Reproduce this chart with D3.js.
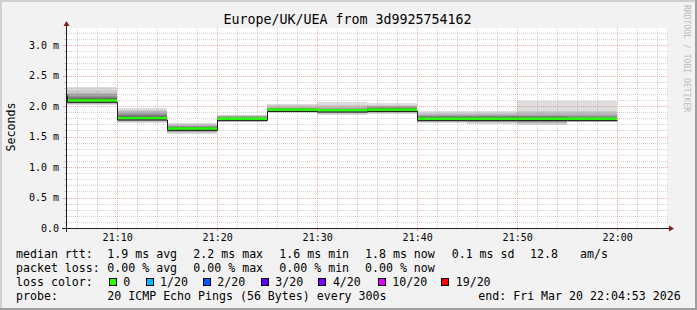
<!DOCTYPE html>
<html><head><meta charset="utf-8">
<script src="https://cdn.jsdelivr.net/npm/d3@7"></script>
<style>html,body{margin:0;padding:0;background:#f2f2f2;}svg{display:block;}</style>
</head><body>
<svg id="chart" width="697" height="310"></svg>
<script>
// ---------------- data ----------------
const titleText = "Europe/UK/UEA from 3d9925754162";
const windowStart = "21:04:53";
const windowEnd = "22:04:53";
const intervalStart = ["21:05","21:10","21:15","21:20","21:25","21:30","21:35","21:40","21:45","21:50","21:55"];
const prevIntervalStart = "21:00";
const prevMedianMs = 2.20;
const medianMs = [2.09,1.80,1.63,1.79,1.94,1.93,1.94,1.79,1.79,1.79,1.79];
// 20 sorted ping RTTs (ms) per 5-minute interval
const pingMs = [
  [2.02,2.03,2.04,2.05,2.06,2.07,2.08,2.09,2.09,2.10,2.10,2.11,2.12,2.13,2.15,2.17,2.19,2.22,2.26,2.31],
  [1.72,1.74,1.75,1.76,1.77,1.78,1.78,1.79,1.79,1.80,1.80,1.81,1.82,1.83,1.85,1.87,1.89,1.92,1.94,1.97],
  [1.54,1.56,1.57,1.58,1.59,1.60,1.61,1.62,1.62,1.63,1.63,1.64,1.64,1.65,1.66,1.67,1.68,1.69,1.70,1.72],
  [1.73,1.74,1.75,1.76,1.76,1.77,1.77,1.78,1.78,1.79,1.79,1.80,1.80,1.81,1.81,1.82,1.83,1.84,1.85,1.86],
  [1.89,1.90,1.90,1.91,1.91,1.92,1.92,1.93,1.93,1.94,1.94,1.94,1.95,1.95,1.96,1.96,1.97,1.99,2.01,2.04],
  [1.86,1.87,1.89,1.90,1.90,1.91,1.91,1.92,1.92,1.93,1.93,1.94,1.94,1.94,1.95,1.95,1.96,1.98,2.02,2.06],
  [1.87,1.88,1.89,1.90,1.91,1.91,1.92,1.93,1.93,1.94,1.94,1.95,1.95,1.96,1.97,1.98,1.99,2.00,2.02,2.05],
  [1.72,1.73,1.74,1.75,1.76,1.77,1.77,1.78,1.78,1.79,1.79,1.80,1.81,1.82,1.83,1.84,1.86,1.87,1.89,1.91],
  [1.71,1.72,1.73,1.74,1.75,1.75,1.76,1.77,1.78,1.79,1.79,1.80,1.81,1.82,1.83,1.84,1.86,1.87,1.89,1.91],
  [1.69,1.71,1.72,1.73,1.74,1.75,1.76,1.77,1.78,1.79,1.79,1.80,1.81,1.82,1.83,1.84,1.86,1.88,1.91,2.09],
  [1.73,1.74,1.74,1.75,1.76,1.77,1.77,1.78,1.78,1.79,1.79,1.80,1.80,1.81,1.82,1.84,1.86,1.88,1.91,2.09]
];
const yTickValues = [0,0.5,1,1.5,2,2.5,3];
const yTickLabels = ["0.0","0.5 m","1.0 m","1.5 m","2.0 m","2.5 m","3.0 m"];
const xTickLabels = ["21:10","21:20","21:30","21:40","21:50","22:00"];
const yAxisTitle = "Seconds";
const rttLegend = ["median rtt:","1.9 ms avg","2.2 ms max","1.6 ms min","1.8 ms now","0.1 ms sd","12.8","am/s"];
const lossLegend = ["packet loss:","0.00 % avg","0.00 % max","0.00 % min","0.00 % now"];
const lossColorTitle = "loss color:";
const lossLabels = ["0","1/20","2/20","3/20","4/20","10/20","19/20"];
const lossColors = ["#26ff00","#00b8ff","#0059ff","#5e00ff","#7e00ff","#dd00ff","#ff0000"];
const probeLegend = ["probe:","20 ICMP Echo Pings (56 Bytes) every 300s","end: Fri Mar 20 22:04:53 2026"];
const watermark = "RRDTOOL / TOBI OETIKER";

// ---------------- layout ----------------
const W = 697, H = 310;
const X0 = 66, X1 = 666, Y0 = 228, Y1 = 28;
const mono = "'DejaVu Sans Mono', 'Liberation Mono', monospace";
const svg = d3.select("#chart");

const pT = d3.utcParse("%H:%M:%S");
const pM = d3.utcParse("%H:%M");
const x = d3.scaleUtc().domain([pT(windowStart), pT(windowEnd)]).range([X0, X1]);
const y = d3.scaleLinear().domain([0, 200/61]).range([Y0, Y1]);
const snap = v => Math.round(v) + 0.5;

// background + frame
svg.append("rect").attr("width", W).attr("height", H).attr("fill", "#f2f2f2");
svg.append("rect").attr("x",0).attr("y",0).attr("width",W).attr("height",2).attr("fill","#cfcfcf");
svg.append("rect").attr("x",0).attr("y",0).attr("width",2).attr("height",H).attr("fill","#cfcfcf");
svg.append("rect").attr("x",W-2).attr("y",0).attr("width",2).attr("height",H).attr("fill","#9e9e9e");
svg.append("rect").attr("x",0).attr("y",H-2).attr("width",W).attr("height",2).attr("fill","#9e9e9e");

// canvas
svg.append("rect").attr("x", X0).attr("y", Y1).attr("width", X1 - X0 + 1).attr("height", Y0 - Y1)
  .attr("fill", "#ffffff");

// smoke
const starts = intervalStart.map(pM);
const ends = starts.map(t => d3.utcMinute.offset(t, 5));
const smokeG = svg.append("g").attr("shape-rendering", "crispEdges");
for (let b = 0; b < 10; b++) {
  const g = 221 - 19 * b;
  const col = d3.rgb(g, g, g).formatHex();
  smokeG.append("g").selectAll("rect").data(pingMs).join("rect")
    .attr("x", (d, i) => x(starts[i]))
    .attr("width", (d, i) => x(ends[i]) - x(starts[i]))
    .attr("y", d => y(d[19 - b]))
    .attr("height", d => Math.max(0.6, y(d[b]) - y(d[19 - b])))
    .attr("fill", col);
}

// grid
const gridG = svg.append("g");
const hMinor = d3.range(1, 33).map(i => i / 10).filter(v => Math.abs(v * 2 - Math.round(v * 2)) > 1e-6);
const hMajor = yTickValues.filter(v => v > 0);
const vAll = d3.utcMinute.every(2).range(pT(windowStart), pT(windowEnd));
const vMinor = vAll.filter(t => t.getUTCMinutes() % 10 !== 0);
const vMajor = d3.utcMinute.every(10).range(pT(windowStart), pT(windowEnd));
const minorStyle = s => s.attr("stroke", "#8f8f8f").attr("stroke-opacity", 0.38).attr("stroke-width", 1);
const majorStyle = s => s.attr("stroke", "#de4f4f").attr("stroke-opacity", 0.45).attr("stroke-width", 1);

gridG.append("g").selectAll("line").data(hMinor).join("line")
  .attr("x1", X0 + 1).attr("x2", X1 + 2).attr("y1", d => snap(y(d))).attr("y2", d => snap(y(d)))
  .attr("stroke-dasharray", "1,1").call(minorStyle);
gridG.append("g").selectAll("line").data(vMinor).join("line")
  .attr("y1", Y1).attr("y2", Y0).attr("x1", d => snap(x(d))).attr("x2", d => snap(x(d)))
  .attr("stroke-dasharray", "1,1").call(minorStyle);
gridG.append("g").selectAll("line").data(hMajor).join("line")
  .attr("x1", X0 + 1).attr("x2", X1 + 2).attr("y1", d => snap(y(d))).attr("y2", d => snap(y(d)))
  .attr("stroke-dasharray", "1,1").call(majorStyle);
gridG.append("g").selectAll("line").data(vMajor).join("line")
  .attr("y1", Y1).attr("y2", Y0).attr("x1", d => snap(x(d))).attr("x2", d => snap(x(d)))
  .attr("stroke-dasharray", "1,1").call(majorStyle);
// small ticks outside plot
gridG.append("g").selectAll("line").data(hMinor).join("line")
  .attr("x1", X0 - 2).attr("x2", X0).attr("y1", d => snap(y(d))).attr("y2", d => snap(y(d))).call(minorStyle);
gridG.append("g").selectAll("line").data(hMajor).join("line")
  .attr("x1", X0 - 3).attr("x2", X0).attr("y1", d => snap(y(d))).attr("y2", d => snap(y(d))).call(majorStyle);
gridG.append("g").selectAll("line").data(vMajor).join("line")
  .attr("y1", Y0 + 1).attr("y2", Y0 + 3).attr("x1", d => snap(x(d))).attr("x2", d => snap(x(d))).call(majorStyle);

// median (green band + dark step line)
svg.append("defs").append("clipPath").attr("id", "plotclip")
  .append("rect").attr("x", X0).attr("y", Y1).attr("width", X1 - X0).attr("height", Y0 - Y1);
const medG = svg.append("g").attr("clip-path", "url(#plotclip)");
medG.append("g").selectAll("rect").data(medianMs).join("rect")
  .attr("x", (d, i) => x(starts[i]))
  .attr("width", (d, i) => x(ends[i]) - x(starts[i]))
  .attr("y", d => y(d) - 1.3)
  .attr("height", 2.6)
  .attr("fill", lossColors[0]);
const stepPts = [{t: pM(prevIntervalStart), v: prevMedianMs}]
  .concat(medianMs.map((v, i) => ({t: starts[i], v})))
  .concat([{t: ends[ends.length - 1], v: medianMs[medianMs.length - 1]}]);
medG.append("path")
  .attr("d", d3.line().x(d => Math.round(x(d.t)) + 0.5).y(d => y(d.v) + 1.8).curve(d3.curveStepAfter)(stepPts))
  .attr("fill", "none").attr("stroke", "#1e1e1e").attr("stroke-width", 1);

// axes lines + arrows
const axCol = "#1f1f1f", arrowCol = "#7f1f1f";
svg.append("line").attr("x1", X0 - 4).attr("x2", X1 + 3).attr("y1", Y0 + 0.5).attr("y2", Y0 + 0.5)
  .attr("stroke", axCol).attr("stroke-width", 1);
svg.append("line").attr("x1", X0 + 0.5).attr("x2", X0 + 0.5).attr("y1", Y0 + 4).attr("y2", Y1 - 3)
  .attr("stroke", axCol).attr("stroke-width", 1);
svg.append("path").attr("d", `M${X0 + 0.5},${Y1 - 7} L${X0 + 3.5},${Y1 - 2} L${X0 - 2.5},${Y1 - 2} Z`).attr("fill", arrowCol);
svg.append("path").attr("d", `M${X1 + 8},${Y0 + 0.5} L${X1 + 3},${Y0 - 2.5} L${X1 + 3},${Y0 + 3.5} Z`).attr("fill", arrowCol);

// axis labels via d3 axes
const yAxis = d3.axisLeft(y).tickValues(yTickValues).tickFormat((d, i) => yTickLabels[i]).tickSize(0).tickPadding(7);
const yg = svg.append("g").attr("transform", `translate(${X0},0)`).call(yAxis);
const xAxis = d3.axisBottom(x).tickValues(xTickLabels.map(pM)).tickFormat(d3.utcFormat("%H:%M")).tickSize(0).tickPadding(6);
const xg = svg.append("g").attr("transform", `translate(0,${Y0})`).call(xAxis);
[yg, xg].forEach(g => {
  g.select(".domain").remove();
  g.selectAll("text").attr("font-family", mono).attr("font-size", "10px").attr("fill", "#000");
});

// title
svg.append("text").attr("x", 347.5).attr("y", 24).attr("text-anchor", "middle")
  .attr("font-family", mono).attr("font-size", "13.3px").attr("fill", "#000").text(titleText);

// y axis title
svg.append("text").attr("transform", "translate(15,127) rotate(-90)").attr("text-anchor", "middle")
  .attr("font-family", mono).attr("font-size", "11.6px").attr("fill", "#000").text(yAxisTitle);

// watermark
svg.append("text").attr("transform", "translate(684,5) rotate(90)")
  .attr("font-family", mono).attr("font-size", "8.1px").attr("fill", "#bcbcbc").text(watermark);

// legend
const lg = svg.append("g").attr("font-family", mono).attr("font-size", "11.6px").attr("fill", "#000");
const row = [257.5, 271.5, 285.5, 299.5];
const colX = [16, 107.3, 193.3, 279.3, 365, 451.7, 530, 580];
lg.append("g").selectAll("text").data(rttLegend).join("text")
  .attr("x", (d, i) => colX[i]).attr("y", row[0]).text(d => d);
lg.append("g").selectAll("text").data(lossLegend).join("text")
  .attr("x", (d, i) => colX[i]).attr("y", row[1]).text(d => d);
lg.append("text").attr("x", colX[0]).attr("y", row[2]).text(lossColorTitle);
const boxX = [109, 145.7, 203, 260.7, 318.3, 377.7, 441];
const lblX = [123.3, 160, 217.3, 275.3, 332.9, 392.3, 455.7];
lg.append("g").attr("shape-rendering", "crispEdges").selectAll("rect").data(lossColors).join("rect")
  .attr("x", (d, i) => Math.round(boxX[i]) + 0.5).attr("y", 278.5).attr("width", 7).attr("height", 7)
  .attr("fill", d => d).attr("stroke", "#000").attr("stroke-width", 1);
lg.append("g").selectAll("text").data(lossLabels).join("text")
  .attr("x", (d, i) => lblX[i]).attr("y", row[2]).text(d => d);
lg.append("text").attr("x", colX[0]).attr("y", row[3]).text(probeLegend[0]);
lg.append("text").attr("x", colX[1]).attr("y", row[3]).text(probeLegend[1]);
lg.append("text").attr("x", 478.3).attr("y", row[3]).text(probeLegend[2]);
</script>
</body></html>
